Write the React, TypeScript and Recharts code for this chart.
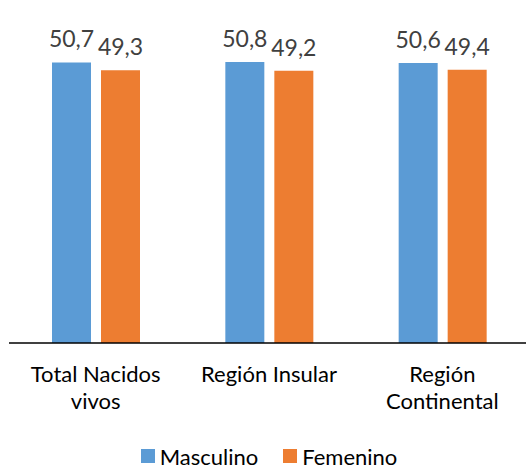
import React from 'react';
import { BarChart, Bar, XAxis, YAxis, LabelList, Legend } from 'recharts';

const categories = ['Total Nacidos vivos', 'Región Insular', 'Región Continental'];
const tickLines = [['Total Nacidos', 'vivos'], ['Región Insular'], ['Región', 'Continental']];
const masculino = [50.7, 50.8, 50.6];
const femenino = [49.3, 49.2, 49.4];

const data = categories.map((name, i) => ({
  name,
  masculino: masculino[i],
  femenino: femenino[i],
}));

const FONT = 'Lato, "Open Sans", sans-serif';
const BLUE = '#5B9BD5';
const ORANGE = '#ED7D31';

const fmt = (v: any) => Number(v).toFixed(1).replace('.', ',');

const CategoryTick = (props: any) => {
  const { x, y, index } = props;
  const lines = tickLines[index] || [String(props.payload.value)];
  return (
    <text x={x} y={y} textAnchor="middle" fontFamily={FONT} fontSize={22} fill="#000">
      {lines.map((l, i) => (
        <tspan key={i} x={x} dy={i === 0 ? 31 : 27}>{l}</tspan>
      ))}
    </text>
  );
};

const renderLegend = () => (
  <div style={{ height: 24, display: 'flex', justifyContent: 'center', alignItems: 'center', fontFamily: FONT, fontSize: 22, color: '#000' }}>
    <span style={{ width: 14, height: 14, background: BLUE, display: 'inline-block', marginRight: 5 }} />
    <span style={{ marginRight: 25 }}>Masculino</span>
    <span style={{ width: 14, height: 14, background: ORANGE, display: 'inline-block', marginRight: 5 }} />
    <span>Femenino</span>
  </div>
);

export default function App() {
  return (
    <div style={{ position: 'absolute', left: 0, top: 0, width: 526, height: 468, background: '#fff' }}>
      <BarChart
        width={526}
        height={468}
        data={data}
        margin={{ top: 11, right: -3, left: 9, bottom: 0 }}
        barSize={39}
        barGap={10}
      >
        <XAxis
          dataKey="name"
          axisLine={{ stroke: '#000', strokeWidth: 1.5 }}
          tickLine={false}
          tick={<CategoryTick />}
          height={101}
          interval={0}
        />
        <YAxis hide domain={[0, 60]} />
        <Legend verticalAlign="bottom" content={renderLegend} wrapperStyle={{ height: 24 }} />
        <Bar dataKey="masculino" name="Masculino" fill={BLUE} isAnimationActive={false}>
          <LabelList dataKey="masculino" position="top" offset={15} formatter={fmt} fill="#404040" fontSize={23} fontFamily={FONT} />
        </Bar>
        <Bar dataKey="femenino" name="Femenino" fill={ORANGE} isAnimationActive={false}>
          <LabelList dataKey="femenino" position="top" offset={15} formatter={fmt} fill="#404040" fontSize={23} fontFamily={FONT} />
        </Bar>
      </BarChart>
    </div>
  );
}
